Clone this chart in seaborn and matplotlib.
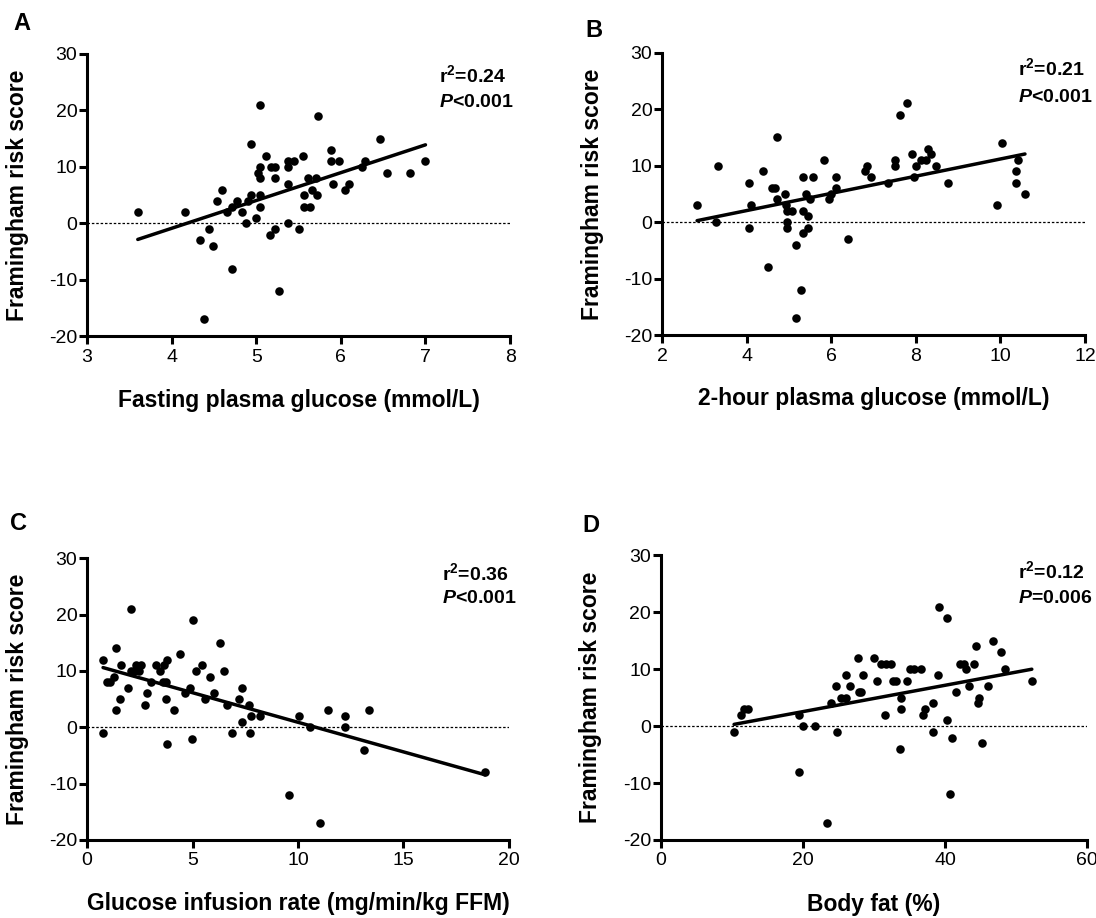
import numpy as np
import pandas as pd
import seaborn as sns
import matplotlib.pyplot as plt

# panel A: fasting plasma glucose
fpg_x = [3.60, 4.16, 4.33, 4.38, 4.44, 4.49, 4.54, 4.60, 4.66, 4.71, 4.71, 4.77, 4.83, 4.88, 4.90,
         4.94, 4.94, 5.00, 5.02, 5.05, 5.05, 5.05, 5.05, 5.05, 5.11, 5.16, 5.17, 5.22, 5.22, 5.22,
         5.27, 5.38, 5.45, 5.38, 5.38, 5.38, 5.50, 5.55, 5.57, 5.56, 5.63, 5.61, 5.66, 5.71, 5.72,
         5.73, 5.88, 5.88, 5.98, 5.91, 6.05, 6.10, 6.25, 6.28, 6.46, 6.55, 6.82, 7.00]
fpg_y = [2, 2, -3, -17, -1, -4, 4, 6, 2, -8, 3, 4, 2, 0, 4,
         5, 14, 1, 9, 21, 10, 8, 5, 3, 12, -2, 10, 10, 8, -1,
         -12, 11, 11, 10, 7, 0, -1, 12, 5, 3, 3, 8, 6, 8, 5,
         19, 13, 11, 11, 7, 6, 7, 10, 11, 15, 9, 9, 11]

# panel B: 2-hour plasma glucose
pg2_x = [2.83, 3.28, 3.33, 4.05, 4.05, 4.11, 4.39, 4.50, 4.60, 4.68, 4.72, 4.72, 4.90, 4.94, 4.96,
         5.08, 4.96, 4.96, 5.17, 5.17, 5.28, 5.34, 5.34, 5.34, 5.40, 5.46, 5.46, 5.51, 5.57, 5.84,
         5.95, 6.00, 6.11, 6.11, 6.40, 6.80, 6.84, 6.93, 7.34, 7.50, 7.50, 7.62, 7.80, 7.90, 7.96,
         8.01, 8.13, 8.24, 8.29, 8.35, 8.47, 8.75, 9.91, 10.03, 10.37, 10.37, 10.42, 10.58]
pg2_y = [3, 0, 10, 7, -1, 3, 9, -8, 6, 6, 15, 4, 5, 3, 2,
         2, 0, -1, -4, -17, -12, 8, 2, -2, 5, 1, -1, 4, 8, 11,
         4, 5, 8, 6, -3, 9, 10, 8, 7, 10, 11, 19, 21, 12, 8,
         10, 11, 11, 13, 12, 10, 7, 3, 14, 9, 7, 11, 5]

# panel C: glucose infusion rate
gir_x = [0.76, 0.76, 0.95, 1.11, 1.27, 1.38, 1.38, 1.54, 1.62, 1.96, 2.07, 2.23, 2.10, 2.34, 2.58,
         2.46, 2.73, 2.86, 3.05, 3.26, 3.47, 3.58, 3.74, 3.66, 3.78, 3.74, 3.78, 4.10, 4.42, 4.66,
         4.90, 4.98, 5.01, 5.17, 5.44, 5.60, 5.83, 6.04, 6.28, 6.47, 6.63, 6.87, 7.19, 7.35, 7.35,
         7.68, 7.74, 7.79, 8.19, 9.59, 10.05, 10.57, 11.02, 11.41, 12.24, 12.24, 13.12, 13.35, 18.87]
gir_y = [12, -1, 8, 8, 9, 14, 3, 5, 11, 7, 10, 10, 21, 11, 11,
         10, 4, 6, 8, 11, 10, 8, 8, 11, 12, 5, -3, 3, 13, 6,
         7, -2, 19, 10, 11, 5, 9, 6, 15, 10, 4, -1, 5, 7, 1,
         4, -1, 2, 2, -12, 2, 0, -17, 3, 2, 0, -4, 3, -8]

# panel D: body fat
fat_x = [10.3, 11.3, 11.7, 12.2, 19.4, 19.4, 20.0, 21.7, 23.4, 23.9, 24.7, 24.8, 25.3, 26.1, 26.1,
         26.6, 27.7, 27.9, 28.1, 28.4, 30.0, 30.4, 31.0, 31.7, 32.4, 31.6, 32.7, 33.1, 33.7, 33.8,
         33.8, 34.6, 35.1, 35.6, 36.6, 36.9, 37.2, 38.3, 38.3, 39.0, 39.1, 40.2, 40.3, 40.7, 41.0,
         41.6, 42.1, 42.6, 43.0, 43.3, 44.1, 44.4, 44.6, 44.8, 45.2, 46.1, 46.7, 47.9, 48.4, 52.2]
fat_y = [-1, 2, 3, 3, 2, -8, 0, 0, -17, 4, 7, -1, 5, 5, 9,
         7, 12, 6, 6, 9, 12, 8, 11, 11, 11, 2, 8, 8, -4, 5,
         3, 8, 10, 10, 10, 2, 3, 4, -1, 9, 21, 19, 1, -12, -2,
         6, 11, 11, 10, 7, 11, 14, 4, 5, -3, 7, 15, 13, 10, 8]

panels = [
    ("A", fpg_x, fpg_y, "Fasting plasma glucose (mmol/L)", (3, 8), [3, 4, 5, 6, 7, 8],
     "0.24", "<0.001", [0.0794, 0.6335, 0.386, 0.3077], (0.832, 0.902, 0.813)),
    ("B", pg2_x, pg2_y, "2-hour plasma glucose (mmol/L)", (2, 12), [2, 4, 6, 8, 10, 12],
     "0.21", "<0.001", [0.604, 0.635, 0.386, 0.3077], (0.842, 0.920, 0.825)),
    ("C", gir_x, gir_y, "Glucose infusion rate (mg/min/kg FFM)", (0, 20), [0, 5, 10, 15, 20],
     "0.36", "<0.001", [0.0794, 0.085, 0.385, 0.307], (0.842, 0.921, 0.840)),
    ("D", fat_x, fat_y, "Body fat (%)", (0, 60), [0, 20, 40, 60],
     "0.12", "=0.006", [0.603, 0.085, 0.389, 0.31], (0.838, 0.919, 0.834)),
]
letter_pos = {"A": (0.012, 0.967), "B": (0.534, 0.960), "C": (0.009, 0.423), "D": (0.531, 0.421)}
y_ticks = [-20, -10, 0, 10, 20, 30]

sns.set_style("ticks")
plt.rcParams['font.family'] = ['Liberation Sans', 'DejaVu Sans']
plt.rcParams['mathtext.fontset'] = 'custom'
plt.rcParams['mathtext.rm'] = 'Liberation Sans:bold'
plt.rcParams['mathtext.it'] = 'Liberation Sans:italic:bold'
plt.rcParams['axes.unicode_minus'] = False
plt.rcParams['text.color'] = 'black'
plt.rcParams['axes.labelcolor'] = 'black'

fig = plt.figure(figsize=(10.96, 9.18), dpi=100)

for letter, xs, ys, xlab, xlim, xt, r2, pval, rect, tpos in panels:
    ax = fig.add_axes(rect)
    df = pd.DataFrame({'x': xs, 'y': ys})
    ax.axhline(0, color='black', lw=0.9, ls=(0, (2, 1.5)), zorder=1)
    sns.regplot(data=df, x='x', y='y', ax=ax, ci=None, color='black',
                scatter_kws={'s': 38, 'linewidths': 0, 'alpha': 1, 'zorder': 3},
                line_kws={'lw': 2.5, 'zorder': 4})
    ax.set_xlim(*xlim)
    ax.set_ylim(-20, 30)
    ax.set_xticks(xt)
    ax.set_yticks(y_ticks)
    sns.despine(ax=ax)
    for s in ['left', 'bottom']:
        ax.spines[s].set_linewidth(2.2)
        ax.spines[s].set_color('black')
    ax.tick_params(width=2.2, length=6, labelsize=14, color='black', labelcolor='black')
    ax.tick_params(axis='y', pad=1)
    ax.tick_params(axis='x', pad=3)
    ax.set_xlabel(xlab, fontsize=16.5, fontweight='bold')
    ax.set_ylabel("Framingham risk score", fontsize=16.5, fontweight='bold')
    ax.xaxis.set_label_coords(0.5, -0.185)
    ax.yaxis.set_label_coords(-0.137, 0.5)
    tx, ty1, ty2 = tpos
    ax.text(tx, ty1, "r$^2$=" + r2, transform=ax.transAxes, fontsize=14,
            fontweight='bold', va='baseline', ha='left', clip_on=False)
    ax.text(tx, ty2, "$P$" + pval, transform=ax.transAxes, fontsize=14,
            fontweight='bold', va='baseline', ha='left', clip_on=False)
    lx, ly = letter_pos[letter]
    fig.text(lx, ly, letter, fontsize=17, fontweight='bold', va='baseline', ha='left')

fig.savefig('out.png', dpi=100)
